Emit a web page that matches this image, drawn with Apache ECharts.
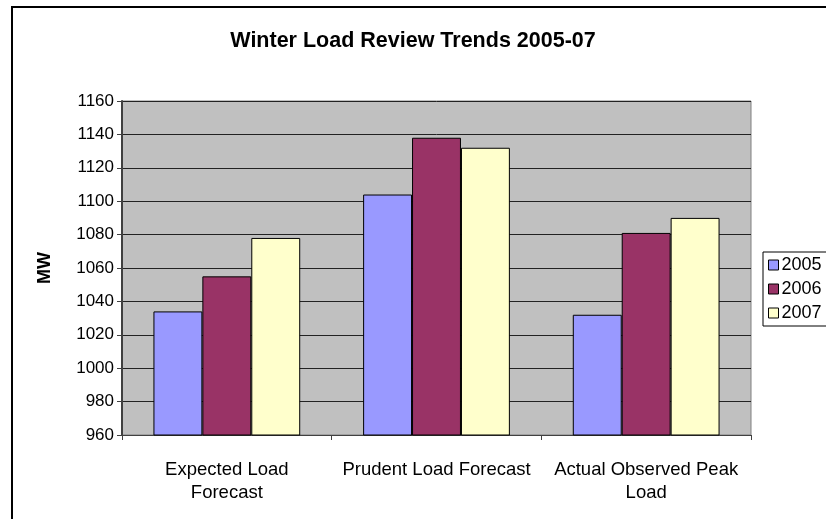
<!DOCTYPE html>
<html>
<head>
<meta charset="utf-8">
<script src="https://cdn.jsdelivr.net/npm/echarts@6/dist/echarts.min.js"></script>
<style>
html, body { margin: 0; padding: 0; background: #fff; }
#chart { width: 826px; height: 519px; }
</style>
</head>
<body>
<div id="chart"></div>
<script>
const categories = ['Expected Load\nForecast', 'Prudent Load Forecast', 'Actual Observed Peak\nLoad']
const years = ['2005', '2006', '2007']
const values2005 = [1034, 1104, 1032]
const values2006 = [1055, 1138, 1081]
const values2007 = [1078, 1132, 1090]
const colors = ['#9999FF', '#993366', '#FFFFCC']

const chart = echarts.init(document.getElementById('chart'))
const font = 'Liberation Sans, Arial, sans-serif'

const barSeries = (name, data) => ({
  name: name,
  type: 'bar',
  data: data,
  barGap: '0%',
  barCategoryGap: '30%',
  itemStyle: { borderColor: '#000', borderWidth: 1 }
})

const option = {
  color: colors,
  animation: false,
  title: {
    text: 'Winter Load Review Trends 2005-07',
    left: 'center',
    top: 25,
    textStyle: { fontFamily: font, fontSize: 21.5, fontWeight: 'bold', color: '#000' }
  },
  legend: {
    orient: 'vertical',
    left: 763,
    top: 252,
    data: years,
    itemWidth: 10,
    itemHeight: 10,
    itemGap: 6,
    padding: [4, 6, 4, 5],
    borderColor: '#000',
    borderWidth: 1,
    backgroundColor: '#fff',
    icon: 'rect',
    itemStyle: { borderColor: '#000', borderWidth: 1 },
    textStyle: { fontFamily: font, fontSize: 18, color: '#000', padding: [0, 0, 0, -2] }
  },
  grid: {
    left: 122,
    right: 75,
    top: 101,
    bottom: 84,
    show: true,
    backgroundColor: '#C0C0C0',
    borderColor: '#808080',
    borderWidth: 1
  },
  xAxis: {
    type: 'category',
    data: categories,
    axisLine: { lineStyle: { color: '#404040', width: 1 } },
    axisTick: { show: true, length: 5, lineStyle: { color: '#404040' } },
    axisLabel: { fontFamily: font, fontSize: 18.5, color: '#000', margin: 23, lineHeight: 23, interval: 0 }
  },
  yAxis: {
    type: 'value',
    name: 'MW',
    nameLocation: 'middle',
    nameGap: 68,
    nameRotate: 90,
    nameTextStyle: { fontFamily: font, fontSize: 18, fontWeight: 'bold', color: '#000' },
    min: 960,
    max: 1160,
    interval: 20,
    axisLine: { show: true, lineStyle: { color: '#404040', width: 2 } },
    axisTick: { show: true, length: 5, lineStyle: { color: '#404040' } },
    axisLabel: { fontFamily: font, fontSize: 17, color: '#000', margin: 8, formatter: (v) => String(v) },
    splitLine: { lineStyle: { color: '#222', width: 1 } }
  },
  series: [
    barSeries(years[0], values2005),
    barSeries(years[1], values2006),
    barSeries(years[2], values2007)
  ],
  graphic: [
    {
      type: 'rect',
      shape: { x: 12, y: 7, width: 830, height: 530 },
      style: { fill: 'none', stroke: '#000', lineWidth: 2 },
      silent: true
    }
  ]
}

chart.setOption(option)
</script>
</body>
</html>
